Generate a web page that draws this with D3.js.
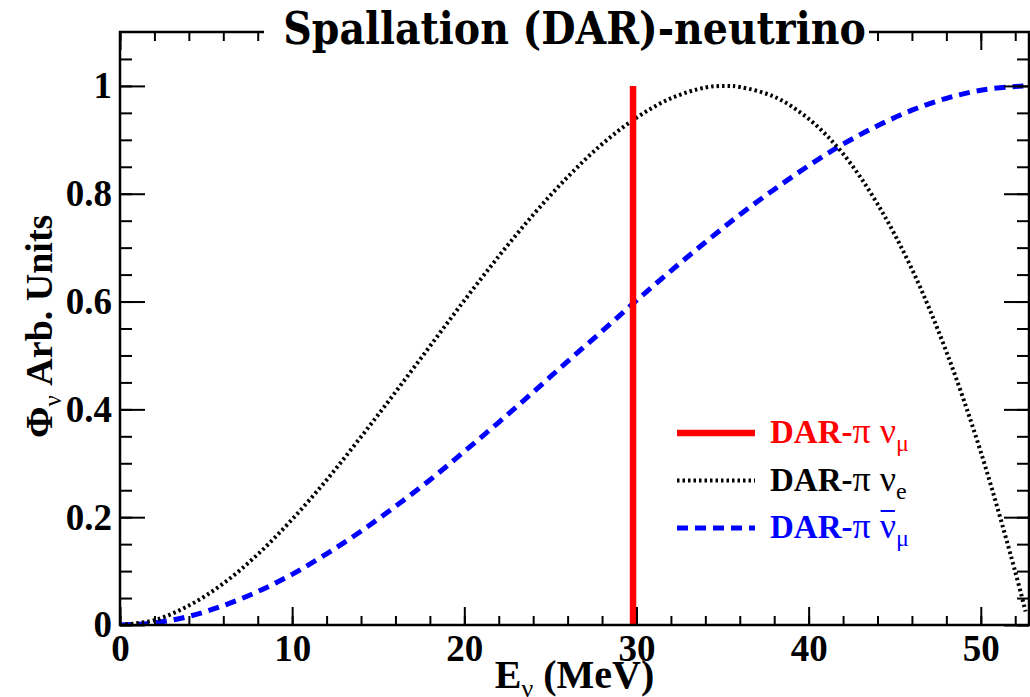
<!DOCTYPE html>
<html>
<head>
<meta charset="utf-8">
<script src="https://cdn.jsdelivr.net/npm/d3@7"></script>
<style>
  body { margin: 0; background: #fff; }
  svg { display: block; }
  text { font-family: "Liberation Serif", "Times New Roman", serif; font-weight: bold; }
  .greek { font-weight: normal; }
</style>
</head>
<body>
<svg id="chart" width="1030" height="697"></svg>
<script>
// energies (MeV) and relative flux
var nueEnergy = [0, 2, 4, 6, 8, 10, 12, 14, 16, 18, 20, 22, 24, 26, 28, 30, 32, 34, 35.2, 36, 38, 40, 42, 44, 46, 48, 50, 52, 52.6];
var nueFlux   = [0, 0.009, 0.036, 0.077, 0.131, 0.196, 0.269, 0.349, 0.432, 0.517, 0.602, 0.684, 0.761, 0.831, 0.892, 0.941, 0.977, 0.997, 1.0, 0.998, 0.980, 0.939, 0.874, 0.781, 0.660, 0.507, 0.321, 0.099, 0.025];

var numubarEnergy = [0, 2, 4, 6, 8, 10, 12, 14, 16, 18, 20, 22, 24, 26, 28, 30, 32, 34, 36, 38, 40, 42, 44, 46, 48, 50, 52, 52.8];
var numubarFlux   = [0, 0.004, 0.016, 0.036, 0.062, 0.094, 0.132, 0.174, 0.220, 0.269, 0.322, 0.376, 0.432, 0.489, 0.545, 0.602, 0.657, 0.710, 0.761, 0.808, 0.852, 0.892, 0.926, 0.955, 0.977, 0.992, 0.999, 1.0];

var numuLineEnergy = 29.8;   // monoenergetic pi DAR numu
var numuLineHeight = 1.0;

var xMajorTicks = [0, 10, 20, 30, 40, 50];
var xMinorTicks = d3.range(0, 53, 2);
var yMajorTicks = [0, 0.2, 0.4, 0.6, 0.8, 1.0];
var yMinorTicks = d3.range(0, 1.1, 0.05);

var legendLabels = [
	{ color: "#ff0000", kind: "solid",  sub: "\u03bc", bar: false },
	{ color: "#000000", kind: "dotted", sub: "e",      bar: false },
	{ color: "#0000ff", kind: "dashed", sub: "\u03bc", bar: true }
];

var frame = { left: 120, right: 1029, top: 32, bottom: 625 };

var svg = d3.select("#chart");
svg.append("rect").attr("width", 1030).attr("height", 697).attr("fill", "#fff");

var x = d3.scaleLinear().domain([0, 52.8]).range([frame.left, frame.right]);
var y = d3.scaleLinear().domain([0, 1.1]).range([frame.bottom, frame.top]);

var styles = {
	solid:  { width: 6.5, dash: null },
	dotted: { width: 4,   dash: "2.5,3" },
	dashed: { width: 5,   dash: "11,7" }
};

var plot = svg.append("g");
plot.append("clipPath").attr("id", "frameclip").append("rect")
	.attr("x", frame.left).attr("y", frame.top)
	.attr("width", frame.right - frame.left).attr("height", frame.bottom - frame.top);

var line = d3.line()
	.x(function(d){ return x(d[0]); })
	.y(function(d){ return y(d[1]); })
	.curve(d3.curveCatmullRom.alpha(0.5));

var curves = plot.append("g").attr("clip-path", "url(#frameclip)");

curves.append("path")
	.datum(d3.zip(numubarEnergy, numubarFlux))
	.attr("fill", "none")
	.attr("stroke", "#0000ff")
	.attr("stroke-width", styles.dashed.width)
	.attr("stroke-dasharray", styles.dashed.dash)
	.attr("d", line);

curves.append("path")
	.datum(d3.zip(nueEnergy, nueFlux))
	.attr("fill", "none")
	.attr("stroke", "#000")
	.attr("stroke-width", styles.dotted.width)
	.attr("stroke-dasharray", styles.dotted.dash)
	.attr("d", line);

curves.append("line")
	.attr("x1", x(numuLineEnergy)).attr("x2", x(numuLineEnergy))
	.attr("y1", y(0)).attr("y2", y(numuLineHeight))
	.attr("stroke", "#ff0000")
	.attr("stroke-width", styles.solid.width);

// axes, ROOT style: ticks pointing inwards on all four sides
function fmtY(d){ return String(+d.toFixed(1)); }

function drawAxis(axis, tx, ty){
	var g = svg.append("g").attr("transform", "translate(" + tx + "," + ty + ")").call(axis);
	g.select(".domain").remove();
	g.selectAll(".tick line").attr("stroke", "#000").attr("stroke-width", 2);
	g.selectAll("text")
		.attr("fill", "#000")
		.style("font-size", "37px")
		.style("font-family", "'Liberation Serif', serif")
		.style("font-weight", "bold");
	return g;
}

drawAxis(d3.axisBottom(x).tickValues(xMinorTicks).tickSizeInner(-9).tickSizeOuter(0).tickFormat(""), 0, frame.bottom);
drawAxis(d3.axisBottom(x).tickValues(xMajorTicks).tickSizeInner(-18).tickSizeOuter(0).tickPadding(10).tickFormat(d3.format("d")), 0, frame.bottom);
drawAxis(d3.axisTop(x).tickValues(xMinorTicks).tickSizeInner(-9).tickSizeOuter(0).tickFormat(""), 0, frame.top);
drawAxis(d3.axisTop(x).tickValues(xMajorTicks).tickSizeInner(-18).tickSizeOuter(0).tickFormat(""), 0, frame.top);

drawAxis(d3.axisLeft(y).tickValues(yMinorTicks).tickSizeInner(-12).tickSizeOuter(0).tickFormat(""), frame.left, 0);
drawAxis(d3.axisLeft(y).tickValues(yMajorTicks).tickSizeInner(-25).tickSizeOuter(0).tickPadding(8).tickFormat(fmtY), frame.left, 0);
drawAxis(d3.axisRight(y).tickValues(yMinorTicks).tickSizeInner(-12).tickSizeOuter(0).tickFormat(""), frame.right, 0);
drawAxis(d3.axisRight(y).tickValues(yMajorTicks).tickSizeInner(-25).tickSizeOuter(0).tickFormat(""), frame.right, 0);

svg.append("rect")
	.attr("x", frame.left).attr("y", frame.top)
	.attr("width", frame.right - frame.left).attr("height", frame.bottom - frame.top)
	.attr("fill", "none").attr("stroke", "#000").attr("stroke-width", 2.5);

// title box covers the top frame line
svg.append("rect").attr("x", 264).attr("y", 0).attr("width", 605).attr("height", 58).attr("fill", "#fff");
var title = svg.append("text")
	.attr("x", (frame.left + frame.right) / 2).attr("y", 44)
	.attr("text-anchor", "middle")
	.style("font-family", "'DejaVu Serif Condensed', 'DejaVu Serif', serif")
	.style("font-stretch", "condensed")
	.style("font-size", "40px")
	.text("Spallation (DAR)-neutrino");
// fit the title to the width it has in the original (~582 px)
var tw = title.node().getComputedTextLength();
title.style("font-size", (40 * 582 / tw).toFixed(1) + "px");

// axis titles
var xt = svg.append("text")
	.attr("x", (frame.left + frame.right) / 2).attr("y", 688)
	.attr("text-anchor", "middle")
	.style("font-size", "40px");
xt.append("tspan").text("E");
xt.append("tspan").attr("class", "greek").attr("dy", 9).style("font-size", "26px").text("\u03bd");
xt.append("tspan").attr("dy", -9).text(" (MeV)");

var yt = svg.append("text")
	.attr("transform", "translate(52,438) rotate(-90)")
	.style("font-size", "38px");
yt.append("tspan").text("\u03a6");
yt.append("tspan").attr("class", "greek").attr("dy", 9).style("font-size", "25px").text("\u03bd");
yt.append("tspan").attr("dy", -9).text(" Arb. Units");

// legend
var legend = svg.append("g");
legendLabels.forEach(function(d, i){
	var ly = 433 + i * 47.5;
	var st = styles[d.kind];
	legend.append("line")
		.attr("x1", 677).attr("x2", 755).attr("y1", ly).attr("y2", ly)
		.attr("stroke", d.color)
		.attr("stroke-width", st.width)
		.attr("stroke-dasharray", st.dash);
	var t = legend.append("text")
		.attr("x", 770).attr("y", ly + 10)
		.attr("fill", d.color)
		.style("font-size", "33px");
	t.append("tspan").text("DAR-");
	t.append("tspan").attr("class", "greek").style("font-size", "36px").text("\u03c0 \u03bd");
	t.append("tspan").attr("class", "greek").attr("dy", 8).style("font-size", "24px").text(d.sub);
	if (d.bar) {
		// overline on the antineutrino
		var node = t.node();
		var nuIdx = 6;
		var s = node.getStartPositionOfChar(nuIdx), e = node.getEndPositionOfChar(nuIdx);
		legend.append("line")
			.attr("x1", s.x + 1).attr("x2", e.x - 1)
			.attr("y1", ly - 17).attr("y2", ly - 17)
			.attr("stroke", d.color).attr("stroke-width", 2);
	}
});
</script>
</body>
</html>
